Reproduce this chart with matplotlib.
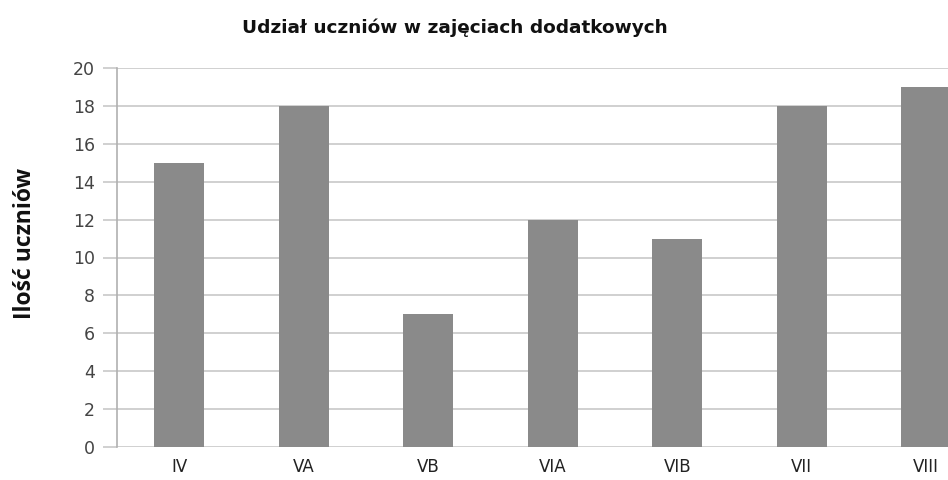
import matplotlib
matplotlib.use("Agg")
import matplotlib.pyplot as plt

categories = ["IV", "VA", "VB", "VIA", "VIB", "VII", "VIII"]
values = [15, 18, 7, 12, 11, 18, 19]
yticks = [0, 2, 4, 6, 8, 10, 12, 14, 16, 18, 20]

fig = plt.figure(figsize=(9.48, 4.8), dpi=100)
ax = fig.add_axes([117/948, 33/480, (948-117)/948, (447-68)/480])

x = list(range(len(categories)))
ax.bar(x, values, width=0.4, color="#8a8a8a", zorder=3)

ax.set_xlim(-0.5, 6.175)
ax.set_ylim(0, 20)
ax.set_yticks(yticks)
ax.set_yticklabels([str(v) for v in yticks], fontsize=12.5, color="#444444",
                   family="DejaVu Sans")
ax.set_xticks(x)
ax.set_xticklabels(categories, fontsize=12, color="#222222", family="DejaVu Sans")

ax.grid(axis="y", color="#c8c8c8", linewidth=1.2, zorder=0)
for s in ["top", "right", "bottom"]:
    ax.spines[s].set_visible(False)
ax.spines["left"].set_color("#b0b0b0")
ax.spines["left"].set_linewidth(1.2)
ax.tick_params(axis="y", length=10, color="#c8c8c8", width=1.2, pad=6)
ax.tick_params(axis="x", length=0, pad=8)

fig.text(455/948, 1 - 28/480, "Udział uczniów w zajęciach dodatkowych",
         ha="center", va="center", fontsize=13.3, fontweight="bold",
         family="DejaVu Sans", color="#111111")
fig.text(25/948, 1 - 243/480, "Ilość uczniów", rotation=90,
         ha="center", va="center", fontsize=16.5, fontweight="bold",
         family="Open Sans", color="#111111")

fig.savefig("out.png", dpi=100)
